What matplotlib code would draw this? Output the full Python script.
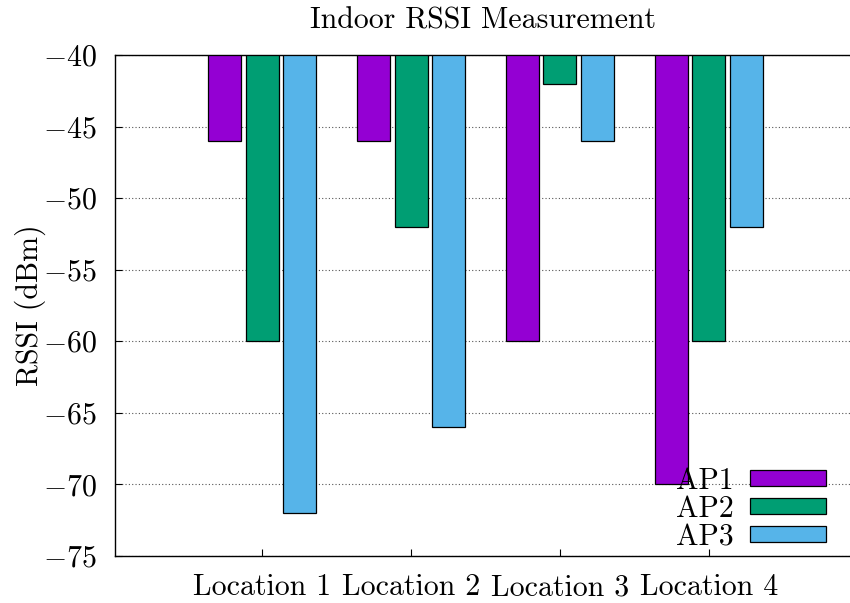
import matplotlib
matplotlib.use("Agg")
import matplotlib.pyplot as plt
import numpy as np
from matplotlib.patches import Patch

plt.rcParams['font.family'] = ['cmr10', 'DejaVu Serif']
plt.rcParams['mathtext.fontset'] = 'cm'
plt.rcParams['axes.formatter.use_mathtext'] = True

locations = ["Location 1", "Location 2", "Location 3", "Location 4"]
series_names = ["AP1", "AP2", "AP3"]
ap1 = [-46, -46, -60, -70]
ap2 = [-60, -52, -42, -60]
ap3 = [-72, -66, -46, -52]
colors = ["#9400D3", "#009E73", "#56B4E9"]
yticks = [-40, -45, -50, -55, -60, -65, -70, -75]

FS = 21.5

fig = plt.figure(figsize=(8.5, 6.03), dpi=100)
ax = fig.add_axes([115/850, 1 - 556/603, 1 - 115/850, (556 - 55)/603])

x = np.arange(len(locations))
base = -40
width = 0.222
offsets = [-0.252, 0.0, 0.252]
for vals, off, c, name in zip([ap1, ap2, ap3], offsets, colors, series_names):
    heights = [v - base for v in vals]
    ax.bar(x + off, heights, width, bottom=base, color=c, edgecolor="black",
           linewidth=0.9, label=name, zorder=3)

ax.set_ylim(-75, -40)
ax.set_xlim(-0.99, 3.95)
ax.set_yticks(yticks)
ax.set_yticklabels([f"$-{abs(t)}$" for t in yticks])
ax.set_xticks(x)
ax.set_xticklabels(locations)
ax.yaxis.grid(True, linestyle=(0, (1, 2)), color="#555555", linewidth=0.8, zorder=0)
ax.set_axisbelow(True)

ax.spines['right'].set_visible(False)
for s in ['left', 'top', 'bottom']:
    ax.spines[s].set_linewidth(1.0)
ax.tick_params(axis='y', direction='in', length=5, pad=13, labelsize=FS)
ax.tick_params(axis='x', direction='in', length=5, pad=13, labelsize=FS)

ax.set_title("Indoor RSSI Measurement", fontsize=FS, pad=19)
ax.set_ylabel("RSSI (dBm)", fontsize=FS, labelpad=-2)

handles = [Patch(facecolor=c, edgecolor="black", linewidth=0.9) for c in colors]
leg = ax.legend(handles, series_names, loc="lower right", frameon=False, markerfirst=False,
                fontsize=FS, handlelength=2.55, handleheight=0.45, labelspacing=0.02,
                handletextpad=0.55, borderaxespad=0.0, borderpad=0.0)
leg.set_bbox_to_anchor((826/850, 1 - 551/603), transform=fig.transFigure)

fig.savefig("out.png", dpi=100)
